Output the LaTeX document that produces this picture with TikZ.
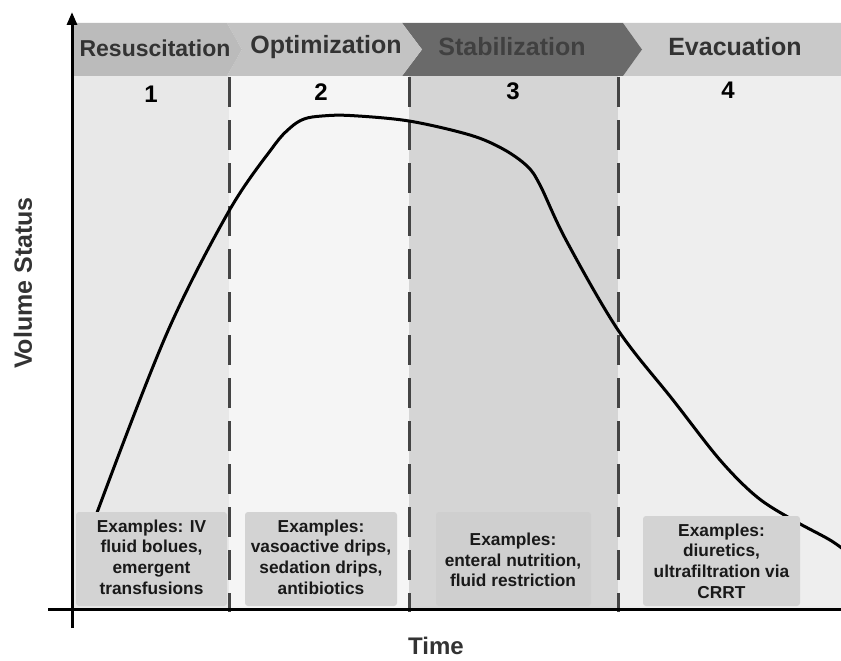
\documentclass[tikz,border=0pt]{standalone}
\usepackage{fontspec}
\setmainfont{Liberation Sans}
\usetikzlibrary{arrows.meta}
\definecolor{bgone}{HTML}{E8E8E8}
\definecolor{bgtwo}{HTML}{F5F5F5}
\definecolor{bgthree}{HTML}{D5D5D5}
\definecolor{bgfour}{HTML}{EEEEEE}
\definecolor{bnone}{HTML}{BBBBBB}
\definecolor{bntwo}{HTML}{C3C3C3}
\definecolor{bnthree}{HTML}{6A6A6A}
\definecolor{bnfour}{HTML}{C9C9C9}
\definecolor{bantext}{HTML}{333333}
\definecolor{boxfill}{HTML}{D3D3D3}
\definecolor{boxfillthree}{HTML}{CFCFCF}
\definecolor{dashcol}{HTML}{444444}
\tikzset{
  bannertext/.style={font=\fontsize{25}{30}\selectfont\bfseries, text=bantext, inner sep=0pt},
  phasenum/.style={font=\fontsize{24}{28}\selectfont\bfseries, text=black, inner sep=0pt},
  exbox/.style={fill=boxfill, rounded corners=3pt},
  extext/.style={font=\fontsize{17.3}{20.7}\selectfont\bfseries, text=black!90, align=center, inner sep=0pt},
  divider/.style={draw=dashcol, line width=3pt, dash pattern=on 30pt off 13pt},
  axisline/.style={draw=black, line width=3pt},
  curveline/.style={draw=black, line width=3pt, line cap=round, line join=round},
  axislabel/.style={font=\fontsize{25}{30}\selectfont\bfseries, text=bantext, inner sep=0pt}
}
\begin{document}
\begin{tikzpicture}[x=1pt,y=-1pt]
\useasboundingbox (0,0) rectangle (841,661);
\fill[white] (0,0) rectangle (841,661);
% column backgrounds
\fill[bgone] (72,76) rectangle (229,609);
\fill[bgtwo] (229,76) rectangle (409,609);
\fill[bgthree] (409,76) rectangle (618,609);
\fill[bgfour] (618,76) rectangle (841,609);
% banner chevrons
\fill[bnfour] (623,23) -- (841,23) -- (841,76) -- (623,76) -- (642,49.5) -- cycle;
\fill[bnthree] (402,23) -- (623,23) -- (642,49.5) -- (623,76) -- (402,76) -- (422,49.5) -- cycle;
\fill[bntwo] (227,23) -- (402,23) -- (422,49.5) -- (402,76) -- (227,76) -- (242,49.5) -- cycle;
\fill[bnone] (72,23) -- (227,23) -- (242,49.5) -- (227,76) -- (72,76) -- cycle;
\node[bannertext, font=\fontsize{23}{28}\selectfont\bfseries] (bres) at (155,48) {Resuscitation};
\node[bannertext] (bopt) at (326,47) {Optimization};
\node[bannertext, text=black!75] (bsta) at (512,47) {Stabilization};
\node[bannertext] (beva) at (735,47) {Evacuation};
% phase numbers
\node[phasenum] (n1) at (151,94) {1};
\node[phasenum] (n2) at (321,92) {2};
\node[phasenum] (n3) at (513,91.5) {3};
\node[phasenum] (n4) at (728,90) {4};
% dividers
\coordinate (d1t) at (229,77); \coordinate (d1b) at (229,612);
\coordinate (d2t) at (409,77); \coordinate (d2b) at (409,612);
\coordinate (d3t) at (618,77); \coordinate (d3b) at (618,612);
\draw[divider] (d1t) -- (d1b);
\draw[divider] (d2t) -- (d2b);
\draw[divider] (d3t) -- (d3b);
% curve
\draw[curveline] plot[smooth, tension=0.55] coordinates {
 (88,545) (98,510) (167,333) (229,211) (273,147)
 (290,128) (304,119) (322,116) (350,115.5) (409,121) (470,135) (503,149)
 (527,166) (540,185) (566,240) (618,330) (673,400) (720,460)
 (757,497) (793,520) (830,540) (848,553)};
% example boxes
\fill[exbox] (76,512) rectangle (227,606);
\fill[exbox] (245,512) rectangle (397,606);
\fill[boxfillthree, rounded corners=3pt] (436,512) rectangle (591,606);
\fill[exbox] (643,516) rectangle (800,606);
\node[extext] (e1) at (151.5,557) {Examples: IV\\fluid bolues,\\emergent\\transfusions};
\node[extext] (e2) at (321,557) {Examples:\\vasoactive drips,\\sedation drips,\\antibiotics};
\node[extext] (e3) at (513,560) {Examples:\\enteral nutrition,\\fluid restriction};
\node[extext] (e4) at (721.5,561) {Examples:\\diuretics,\\ultrafiltration via\\CRRT};
% axes
\coordinate (xl) at (48,609); \coordinate (xr) at (841,609);
\coordinate (yb) at (72,628); \coordinate (yt) at (72,12);
\draw[axisline] (xl) -- (xr);
\draw[axisline, -{Triangle[length=13pt,width=10pt]}] (yb) -- (yt);
% axis labels
\node[axislabel, rotate=90] (ylab) at (23,283) {Volume Status};
\node[axislabel, font=\fontsize{24}{28}\selectfont\bfseries, anchor=base] (xlab) at (436,654) {Time};
\end{tikzpicture}
\end{document}
